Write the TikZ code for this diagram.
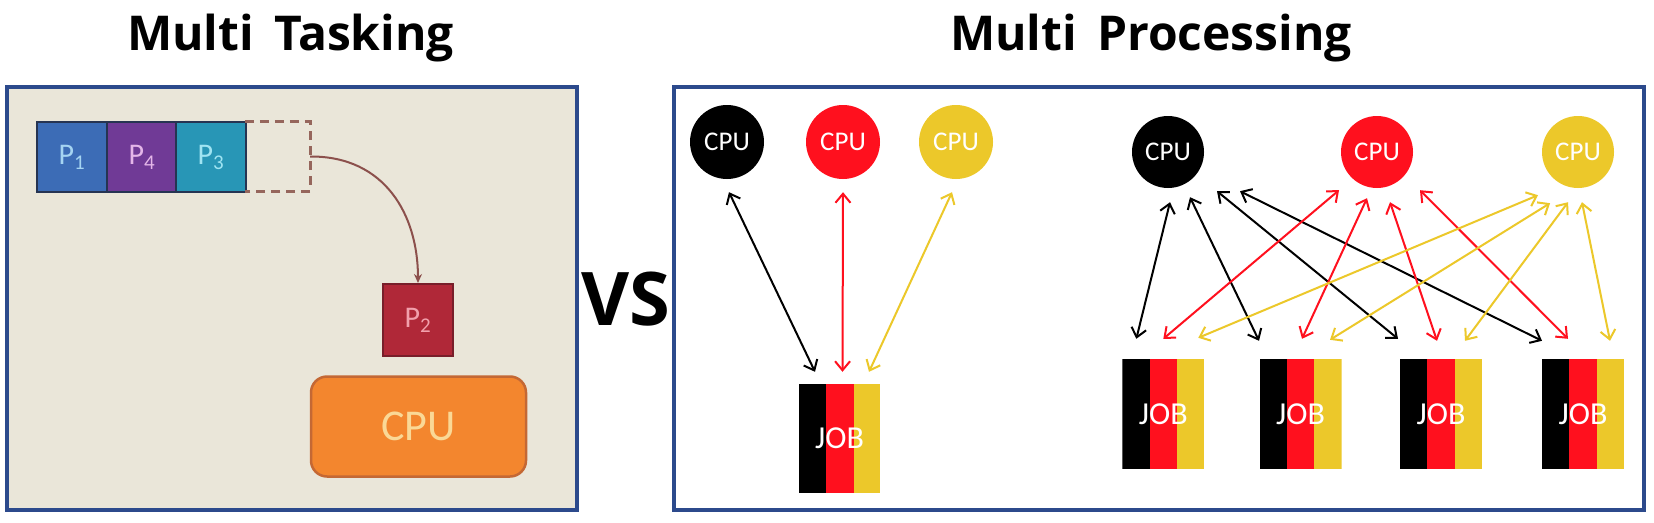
\documentclass[tikz,border=0pt]{standalone}
\usepackage{fontspec}
\setmainfont{Carlito}
\newfontfamily\titlefont{Open Sans}
\newfontfamily\vsfont{Open Sans}
\usetikzlibrary{arrows.meta,calc}
\definecolor{panelblue}{RGB}{44,74,140}
\definecolor{beige}{RGB}{234,230,217}
\definecolor{pone}{RGB}{60,108,182}
\definecolor{pfour}{RGB}{112,58,150}
\definecolor{pthree}{RGB}{40,150,182}
\definecolor{pedge}{RGB}{38,52,82}
\definecolor{ptwo}{RGB}{176,40,56}
\definecolor{ptwoedge}{RGB}{120,30,42}
\definecolor{cpuorange}{RGB}{243,134,46}
\definecolor{cpuedge}{RGB}{196,104,52}
\definecolor{cputext}{RGB}{250,216,150}
\definecolor{arccol}{RGB}{140,80,76}
\definecolor{dashcol}{RGB}{150,102,92}
\definecolor{jblack}{RGB}{0,0,0}
\definecolor{jred}{RGB}{255,16,30}
\definecolor{jyellow}{RGB}{236,200,42}
\begin{document}
\begin{tikzpicture}[x=1pt,y=-1pt,
  panel/.style={draw=panelblue, line width=4},
  titletext/.style={font=\titlefont\bfseries\fontsize{48}{54}\selectfont, anchor=base, inner sep=0},
  pbox/.style={draw=pedge, line width=2, minimum width=69.5, minimum height=70, inner sep=0, font=\fontsize{30}{32}\selectfont},
  cpucircle/.style={circle, minimum size=#1, inner sep=0, text=white, font=\fontsize{27}{29}\selectfont},
  jobbox/.style={minimum width=82, minimum height=110, inner sep=0, text=white, font=\fontsize{32}{34}\selectfont,
    path picture={
      \fill[jblack] (path picture bounding box.south west) rectangle ([xshift=27.33pt]path picture bounding box.north west);
      \fill[jred] ([xshift=27.33pt]path picture bounding box.south west) rectangle ([xshift=54.67pt]path picture bounding box.north west);
      \fill[jyellow] ([xshift=54.67pt]path picture bounding box.south west) rectangle (path picture bounding box.north east);
    }},
  bi/.style={draw=#1, line width=2, {Straight Barb[length=9pt,width=15pt]}-{Straight Barb[length=9pt,width=15pt]}}
]
\useasboundingbox (0,0) rectangle (1654,522);
\fill[white] (0,0) rectangle (1654,522);

% titles
\node[titletext] (t1) at (290.5,50) {Multi\hspace{0.42em}Tasking};
\node[titletext] (t2) at (1151,50) {Multi\hspace{0.42em}Processing};
\node[font=\vsfont\bfseries\fontsize{74}{80}\selectfont, anchor=base, inner sep=0] (vs) at (626,325) {VS};

% left panel
\draw[panel, fill=beige] (7,87) rectangle (577,510);
\node[pbox, fill=pone, text={rgb,255:red,165;green,212;blue,242}] (p1) at (72,157) {P\textsubscript{1}};
\node[pbox, fill=pfour, text={rgb,255:red,228;green,182;blue,232}] (p4) at (142,157) {P\textsubscript{4}};
\node[pbox, fill=pthree, text={rgb,255:red,160;green,228;blue,242}] (p3) at (211,157) {P\textsubscript{3}};
\node[minimum width=65, minimum height=69, inner sep=0] (slot) at (277.5,156.5) {};
\draw[dashcol, line width=3, dash pattern=on 9pt off 6pt] (slot.north west) -- (slot.north east) -- (slot.south east) -- (slot.south west);
\node[draw=ptwoedge, line width=2, fill=ptwo, minimum width=70, minimum height=72, inner sep=0,
  text={rgb,255:red,242;green,160;blue,172}, font=\fontsize{30}{32}\selectfont] (p2) at (418,320) {P\textsubscript{2}};
\draw[arccol, line width=2, -{Stealth[length=9pt,width=8pt]}] (slot.east) .. controls (385,156) and (418,215) .. (p2.north);
\node[draw=cpuedge, line width=2.5, fill=cpuorange, rounded corners=16, minimum width=215, minimum height=100,
  inner sep=0, text=cputext, font=\fontsize{44}{46}\selectfont] (cpu0) at (418.5,426.5) {CPU};

% right panel
\draw[panel, fill=white] (674,87) rectangle (1644,510);

% left group
\node[cpucircle=74, fill=jblack] (a1) at (727,142) {CPU};
\node[cpucircle=74, fill=jred] (a2) at (843,142) {CPU};
\node[cpucircle=74, fill=jyellow] (a3) at (956,142) {CPU};
\node[jobbox, minimum width=81, minimum height=109] (j0) at (839.5,438.5) {JOB};
\draw[bi=jblack] ([xshift=2pt,yshift=-13pt]a1.south) -- ([xshift=-24.5pt,yshift=12pt]j0.north);
\draw[bi=jred] ([yshift=-13pt]a2.south) -- ([xshift=3pt,yshift=12pt]j0.north);
\draw[bi=jyellow] ([xshift=-4pt,yshift=-13pt]a3.south) -- ([xshift=29.5pt,yshift=12pt]j0.north);

% right group
\node[cpucircle=72, fill=jblack] (b1) at (1168,152) {CPU};
\node[cpucircle=72, fill=jred] (b2) at (1377,152) {CPU};
\node[cpucircle=72, fill=jyellow] (b3) at (1578,152) {CPU};
\node[jobbox] (j1) at (1163.3,414) {JOB};
\node[jobbox] (j2) at (1300.5,414) {JOB};
\node[jobbox] (j3) at (1441,414) {JOB};
\node[jobbox] (j4) at (1583,414) {JOB};

\draw[bi=jblack] ([xshift=2pt,yshift=-14pt]b1.south) -- ([xshift=-27pt,yshift=20pt]j1.north);
\draw[bi=jblack] ([xshift=22pt,yshift=-9pt]b1.south) -- ([xshift=-41.5pt,yshift=18pt]j2.north);
\draw[bi=jblack] ([xshift=49pt,yshift=-3pt]b1.south) -- ([xshift=-43pt,yshift=20pt]j3.north);
\draw[bi=jblack] ([xshift=72pt,yshift=-3pt]b1.south) -- ([xshift=-41pt,yshift=18pt]j4.north);

\draw[bi=jred] ([xshift=-38pt,yshift=-2pt]b2.south) -- ([xshift=0pt,yshift=20pt]j1.north);
\draw[bi=jred] ([xshift=-10pt,yshift=-10pt]b2.south) -- ([xshift=1.5pt,yshift=20pt]j2.north);
\draw[bi=jred] ([xshift=13pt,yshift=-14pt]b2.south) -- ([xshift=-4pt,yshift=18pt]j3.north);
\draw[bi=jred] ([xshift=43pt,yshift=-2pt]b2.south) -- ([xshift=-15pt,yshift=20pt]j4.north);

\draw[bi=jyellow] ([xshift=-40pt,yshift=-7pt]b3.south) -- ([xshift=35pt,yshift=21pt]j1.north);
\draw[bi=jyellow] ([xshift=-28pt,yshift=-15pt]b3.south) -- ([xshift=29.5pt,yshift=19pt]j2.north);
\draw[bi=jyellow] ([xshift=-10pt,yshift=-14pt]b3.south) -- ([xshift=24pt,yshift=18pt]j3.north);
\draw[bi=jyellow] ([xshift=4pt,yshift=-14pt]b3.south) -- ([xshift=27pt,yshift=18pt]j4.north);
\end{tikzpicture}
\end{document}
